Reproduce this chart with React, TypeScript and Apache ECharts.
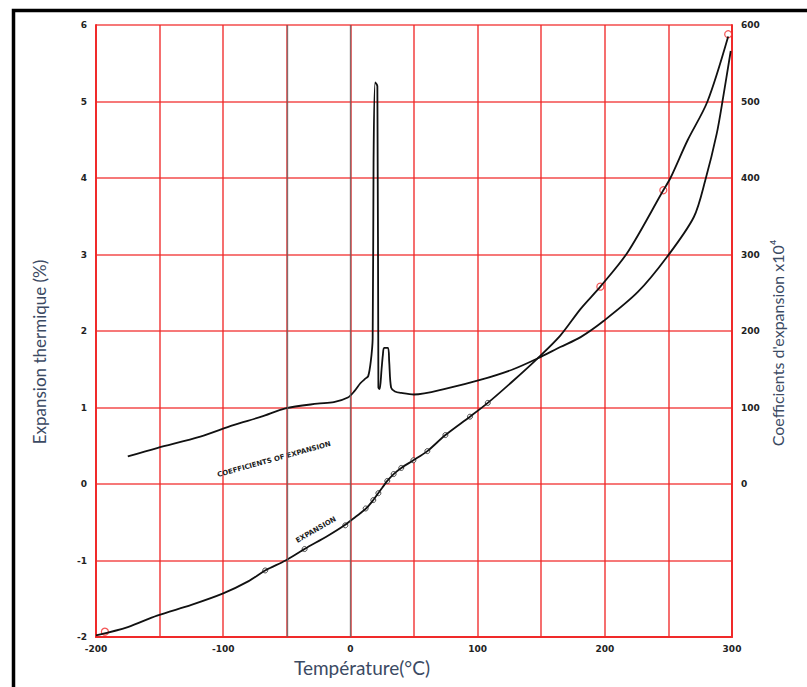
import React, { useEffect, useRef } from "react";
import * as echarts from "echarts";

// Expansion thermique (%) vs température
const expTemp = [-200, -175, -152, -125, -100, -80, -67, -51, -39, -34, -18, -5.5, 2.4, 8, 13, 18, 21, 25, 29, 34, 40, 49.5, 60.5, 74.7, 94, 108, 128, 147, 165, 181, 196.5, 218, 246, 251.6, 265, 280.7, 297];
const expVal = [-1.98, -1.87, -1.72, -1.58, -1.43, -1.27, -1.13, -1.0, -0.88, -0.83, -0.68, -0.55, -0.45, -0.38, -0.31, -0.21, -0.14, -0.05, 0.04, 0.13, 0.21, 0.31, 0.43, 0.64, 0.88, 1.06, 1.35, 1.64, 1.94, 2.29, 2.58, 3.03, 3.84, 4.0, 4.49, 5.0, 5.85];

// open circle markers on the expansion curve
const markTemp = [-67, -36, -4, 12, 18, 22, 29, 34, 40, 49.5, 60.5, 74.7, 94, 108];
const markVal = [-1.13, -0.85, -0.54, -0.32, -0.21, -0.12, 0.04, 0.13, 0.21, 0.31, 0.43, 0.64, 0.88, 1.06];
const redTemp = [-193, 196.5, 246, 297];
const redVal = [-1.93, 2.58, 3.84, 5.88];

// Coefficient d'expansion x10^4 vs température
const coefTemp = [-175, -152, -118, -92, -70, -51, -26, -13, -2, 3, 8, 12, 14, 16, 17.5, 18.2, 19.5, 21.2, 22, 23, 24.5, 25.5, 26.5, 29.5, 30.5, 32, 35, 40, 50, 76, 102, 128, 147, 165, 181, 199, 226, 249, 270, 279, 288, 293, 299];
const coefVal = [36, 47, 62, 77, 88, 99, 105, 107, 113, 121, 132, 138, 141, 160, 190, 420, 525, 520, 126, 124, 150, 168, 178, 178, 160, 126, 121, 119, 117, 125, 136, 150, 164, 179, 192, 213, 251, 297, 349, 397, 458, 505, 566];

const xTicks = [-200, -100, 0, 100, 200, 300];
const leftTicks = [6, 5, 4, 3, 2, 1, 0, -1, -2];
const rightTicks = [600, 500, 400, 300, 200, 100, 0];
const darkGridTemps = [-50, 0];

const RED = "#f02a2a";
const TITLE = "#3b4a63";

export default function App() {
  const ref = useRef<HTMLDivElement>(null);
  useEffect(() => {
    if (!ref.current) return;
    const chart = echarts.init(ref.current, undefined, { renderer: "svg" });
    const tickFont = { color: "#222", fontSize: 9, fontWeight: "bold" as const, fontFamily: "DejaVu Sans" };
    chart.setOption({
      animation: false,
      backgroundColor: "#ffffff",
      grid: { left: 96, right: 75, top: 25, bottom: 50 },
      xAxis: {
        type: "value",
        min: -200,
        max: 300,
        interval: 50,
        axisLine: { show: true, onZero: false, lineStyle: { color: RED, width: 2 } },
        axisTick: { show: false },
        splitLine: { show: true, lineStyle: { color: RED, width: 1.6, opacity: 0.85 } },
        axisLabel: {
          ...tickFont,
          margin: 7,
          formatter: (v: number) => (xTicks.includes(v) ? String(v) : ""),
        },
      },
      yAxis: [
        {
          type: "value",
          min: -2,
          max: 6,
          interval: 1,
          axisLine: { show: true, onZero: false, lineStyle: { color: RED, width: 2 } },
          axisTick: { show: false },
          splitLine: { show: true, lineStyle: { color: RED, width: 1.6, opacity: 0.85 } },
          axisLabel: { ...tickFont, margin: 9, formatter: (v: number) => (leftTicks.includes(v) ? String(v) : "") },
        },
        {
          type: "value",
          min: -200,
          max: 600,
          interval: 100,
          position: "right",
          axisLine: { show: true, onZero: false, lineStyle: { color: RED, width: 2 } },
          axisTick: { show: false },
          splitLine: { show: false },
          axisLabel: { ...tickFont, margin: 9, formatter: (v: number) => (rightTicks.includes(v) ? String(v) : "") },
        },
      ],
      series: [
        {
          type: "line",
          name: "grid-dark",
          data: [],
          silent: true,
          markLine: {
            silent: true,
            symbol: "none",
            label: { show: false },
            lineStyle: { color: "#666", width: 1.4, type: "solid", opacity: 0.75 },
            data: darkGridTemps.map((t) => ({ xAxis: t })),
          },
        },
        {
          type: "line",
          name: "coef",
          yAxisIndex: 1,
          data: coefTemp.map((t, i) => [t, coefVal[i]]),
          showSymbol: false,
          smooth: 0.3,
          lineStyle: { color: "#111", width: 1.8 },
        },
        {
          type: "line",
          name: "expansion",
          yAxisIndex: 0,
          data: expTemp.map((t, i) => [t, expVal[i]]),
          showSymbol: false,
          smooth: 0.3,
          lineStyle: { color: "#111", width: 1.8 },
        },
        {
          type: "scatter",
          name: "marks",
          yAxisIndex: 0,
          data: markTemp.map((t, i) => [t, markVal[i]]),
          symbol: "circle",
          symbolSize: 5,
          itemStyle: { color: "#ffffff", borderColor: "#222", borderWidth: 1 },
        },
        {
          type: "scatter",
          name: "redmarks",
          yAxisIndex: 0,
          data: redTemp.map((t, i) => [t, redVal[i]]),
          symbol: "circle",
          symbolSize: 7,
          itemStyle: { color: "#ffffff", borderColor: RED, borderWidth: 1.2 },
        },
      ],
    });

    const p1 = chart.convertToPixel({ xAxisIndex: 0, yAxisIndex: 1 }, [-60, 32]) as number[];
    const p2 = chart.convertToPixel({ xAxisIndex: 0, yAxisIndex: 0 }, [-27, -0.6]) as number[];
    chart.setOption({
      graphic: [
        {
          type: "rect",
          shape: { x: 13.5, y: 10.5, width: 900, height: 800 },
          style: { fill: "none", stroke: "#000", lineWidth: 3.5 },
          silent: true,
        },
        {
          type: "text",
          x: 39,
          y: 352,
          rotation: Math.PI / 2,
          style: { text: "Expansion thermique (%)", fill: TITLE, font: "17px Lato", align: "center", verticalAlign: "middle" },
        },
        {
          type: "text",
          x: 777,
          y: 343,
          rotation: Math.PI / 2,
          style: { text: "Coefficients d'expansion x10⁴", fill: TITLE, font: "16px Lato", align: "center", verticalAlign: "middle" },
        },
        {
          type: "text",
          x: 362,
          y: 667,
          style: { text: "Température(°C)", fill: TITLE, font: "19px Lato", align: "center", verticalAlign: "middle" },
        },
        {
          type: "text",
          x: p1[0],
          y: p1[1],
          rotation: (15.5 * Math.PI) / 180,
          style: { text: "COEFFICIENTS OF EXPANSION", fill: "#222", font: "bold 7px DejaVu Sans", align: "center", verticalAlign: "middle" },
        },
        {
          type: "text",
          x: p2[0],
          y: p2[1],
          rotation: (30 * Math.PI) / 180,
          style: { text: "EXPANSION", fill: "#222", font: "bold 7px DejaVu Sans", align: "center", verticalAlign: "middle" },
        },
      ],
    });
    return () => chart.dispose();
  }, []);
  return (
    <div style={{ position: "fixed", left: 0, top: 0, width: 807, height: 687, background: "#fff" }}>
      <div ref={ref} style={{ width: 807, height: 687 }} />
    </div>
  );
}
